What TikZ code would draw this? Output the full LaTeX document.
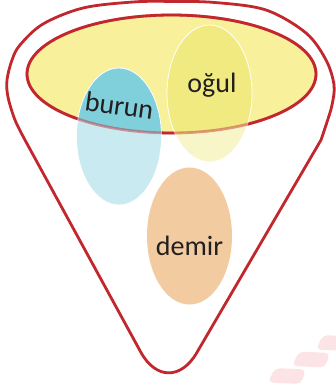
\documentclass[tikz,border=0pt]{standalone}
\usepackage{fontspec}
\setmainfont{Carlito}
\usetikzlibrary{calc}
\definecolor{fred}{HTML}{C1272D}
\definecolor{fyel}{HTML}{F9F09B}
\definecolor{oin}{HTML}{F0EA80}
\definecolor{oout}{HTML}{F8F6C8}
\definecolor{bin}{HTML}{80D0DC}
\definecolor{bout}{HTML}{C9EAF0}
\definecolor{dem}{HTML}{F2CBA0}
\definecolor{pinkb}{HTML}{FBE3E6}
\definecolor{txt}{HTML}{231F20}
\begin{document}
\begin{tikzpicture}[x=1pt,y=-1pt,
  redline/.style={draw=fred, line width=2.8pt},
  lbl/.style={text=txt, inner sep=0pt, font=\fontsize{28}{30}\selectfont},
  blob/.style={fill=pinkb, rounded corners=5pt},
  bigell/.style={x radius=144.5, y radius=59},
  smallell/.style={x radius=42.5, y radius=68.5}]
\useasboundingbox (0,0) rectangle (336,386);
% funnel
\coordinate (A) at (168,402);
\coordinate (P) at (25,140);
\coordinate (Q) at (321,140);
\coordinate (L) at ($(A)!57pt!(P)$);
\coordinate (R) at ($(A)!57pt!(Q)$);
\draw[redline, line join=round]
  plot[smooth, tension=0.55] coordinates {(P) (15,120) (8,97) (7,80) (12,60) (20,45) (43,24) (83,8) (133,2) (170,1.4) (215,2.5) (266,10) (306,33) (326,60) (334,85) (332,105) (327,122) (Q)}
  -- (R) .. controls ($(R)!0.55!(A)$) and ($(L)!0.55!(A)$) .. (L) -- cycle;
% yellow ellipse
\coordinate (Y) at (171.5,74);
\coordinate (B) at (119,136.5);
\coordinate (O) at (209.5,93.5);
\coordinate (D) at (189.5,236);
\fill[fyel] (Y) ellipse [bigell];
\draw[redline] (Y) ellipse [bigell];
\fill[bout] (B) ellipse [smallell];
\fill[oout] (O) ellipse [smallell];
\begin{scope}
  \clip (Y) ellipse [bigell];
  \fill[bin] (B) ellipse [smallell];
  \fill[oin] (O) ellipse [smallell];
\end{scope}
\draw[white, line width=0.8pt] (B) ellipse [smallell];
\draw[white, line width=0.8pt] (O) ellipse [smallell];
\draw[redline, draw opacity=0.45] (Y) ellipse [bigell];
\fill[dem] (D) ellipse [smallell];
% labels
\node[lbl, rotate=-8, anchor=base] (burun) at (118,115) {burun};
\node[lbl, anchor=base] (ogul) at (212,92.5) {oğul};
\node[lbl, anchor=base] (demir) at (189.5,255) {demir};
% pink blobs
\fill[blob] (275,368) -- (306,369.5) -- (301,384) -- (268,382.5) -- cycle;
\fill[blob] (299,351.5) -- (330,353) -- (325,367.5) -- (292,366) -- cycle;
\fill[blob] (323,335) -- (354,336.5) -- (349,351) -- (316,349.5) -- cycle;
\end{tikzpicture}
\end{document}
